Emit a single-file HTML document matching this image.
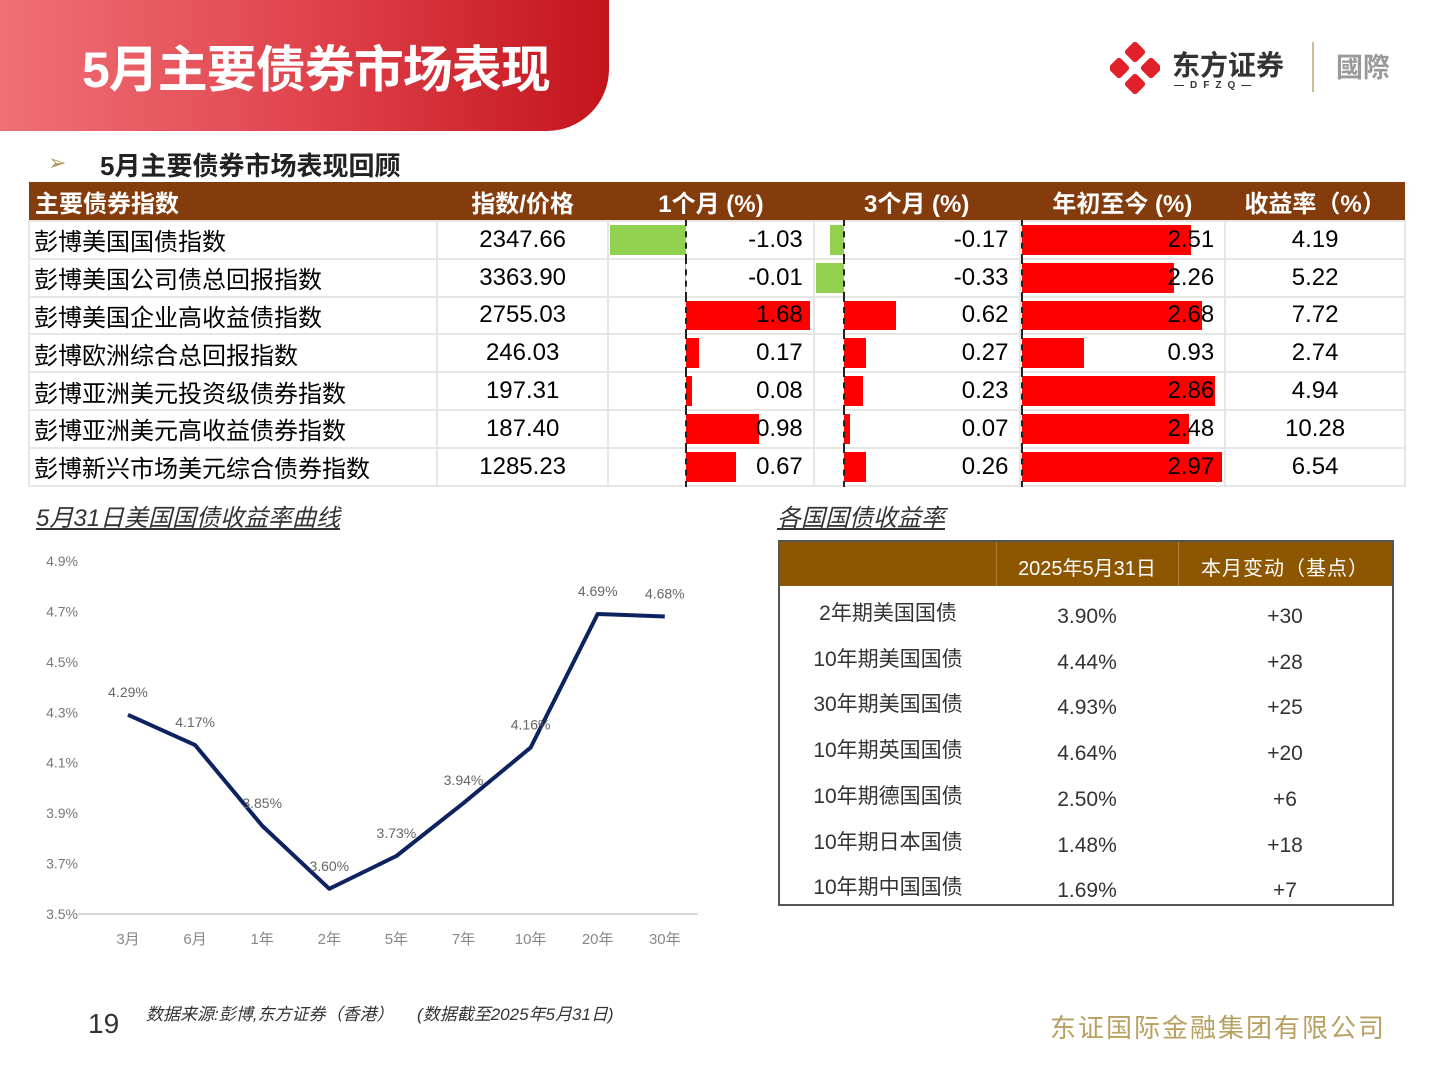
<!DOCTYPE html>
<html><head><meta charset="utf-8">
<style>
*{margin:0;padding:0;box-sizing:border-box}
body{width:1440px;height:1080px;background:#fff;position:relative;overflow:hidden;font-family:"Liberation Sans","Noto Sans CJK SC",sans-serif}
.abs{position:absolute}
#banner{left:0;top:0;width:609px;height:131px;background:linear-gradient(90deg,#f07077 0%,#e0444d 50%,#c4141c 100%);border-bottom-right-radius:62px}
#banner-title{left:82px;top:30px;font-size:50px;font-weight:bold;color:#fff;letter-spacing:-1px}
#tbl{left:28px;top:182px;width:1378px;border-collapse:collapse;font-size:24px}
#tbl th{background:#843c0c;color:#fff;height:39px;font-weight:bold;font-size:24px}
#tbl td{height:37.8px;border:2px solid #e6e6e6;position:relative;text-align:center;padding:0}
.bar{position:absolute;top:3px;bottom:3px}
.val{position:relative;z-index:2}
.num{text-align:right!important;padding-right:10px!important}
#t2{left:778px;top:540px;width:616px;height:366px;border:2px solid #555}
</style></head><body>
<div id="banner" class="abs"></div>
<div id="banner-title" class="abs">5月主要债券市场表现</div>

<div class="abs" style="left:1110px;top:42px;width:290px;height:52px">
 <svg width="50" height="52" style="position:absolute;left:0;top:0">
  <g fill="#e0202a"><rect x="17" y="2" width="16" height="16" rx="3" transform="rotate(45 25 10)"/><rect x="17" y="34" width="16" height="16" rx="3" transform="rotate(45 25 42)"/><rect x="1" y="18" width="16" height="16" rx="3" transform="rotate(45 9 26)"/><rect x="33" y="18" width="16" height="16" rx="3" transform="rotate(45 41 26)"/></g>
 </svg>
 <div class="abs" style="left:62px;top:2px;font-size:28px;font-weight:bold;color:#333">东方证券</div>
 <div class="abs" style="left:64px;top:38px;font-size:10px;color:#333;letter-spacing:6px;font-weight:bold">—DFZQ—</div>
 <div class="abs" style="left:202px;top:0;width:2px;height:50px;background:#c8bc9a"></div>
 <div class="abs" style="left:226px;top:4px;font-size:27px;font-weight:bold;color:#999">國際</div>
</div>

<div class="abs" style="left:48px;top:150px;font-size:22px;color:#b09a5a">➢</div>
<div class="abs" style="left:100px;top:146px;font-size:26px;font-weight:bold;color:#222">5月主要债券市场表现回顾</div>

<table id="tbl" class="abs">
<thead><tr>
<th style="width:409px;text-align:left;padding-left:6px">主要债券指数</th>
<th style="width:171px">指数/价格</th>
<th style="width:206px">1个月 (%)</th>
<th style="width:206px">3个月 (%)</th>
<th style="width:206px">年初至今 (%)</th>
<th style="width:180px">收益率（%）</th>
</tr></thead>
<tbody id="tb"></tbody>
</table>

<div class="abs" style="left:36px;top:498px;font-size:24px;font-style:italic;color:#333;text-decoration:underline">5月31日美国国债收益率曲线</div>
<svg id="chart" class="abs" style="left:0;top:540px" width="720" height="420"></svg>

<div class="abs" style="left:777px;top:498px;font-size:24px;font-style:italic;color:#333;text-decoration:underline">各国国债收益率</div>
<div id="t2" class="abs">
 <div class="abs" style="left:0;top:0;width:612px;height:44px;background:#8c5700"></div>
 <div class="abs" style="left:216px;top:0;width:1px;height:44px;background:#b08040"></div>
 <div class="abs" style="left:398px;top:0;width:1px;height:44px;background:#b08040"></div>
 <div class="abs" style="left:216px;top:10px;width:182px;text-align:center;color:#fff;font-size:20px">2025年5月31日</div>
 <div class="abs" style="left:398px;top:10px;width:214px;text-align:center;color:#fff;font-size:20px;letter-spacing:1px">本月变动（基点）</div>
 <div id="t2rows"></div>
</div>

<div class="abs" style="left:88px;top:1008px;font-size:28px;color:#333">19</div>
<div class="abs" style="left:146px;top:1000px;font-size:17px;font-style:italic;color:#333">数据来源:彭博,东方证券（香港）&nbsp;&nbsp;&nbsp;&nbsp;&nbsp;(数据截至2025年5月31日)</div>
<div class="abs" style="left:1050px;top:1008px;font-size:26px;color:#b8a060;letter-spacing:2px">东证国际金融集团有限公司</div>

<script>
const names=["彭博美国国债指数","彭博美国公司债总回报指数","彭博美国企业高收益债指数","彭博欧洲综合总回报指数","彭博亚洲美元投资级债券指数","彭博亚洲美元高收益债券指数","彭博新兴市场美元综合债券指数"];
const prices=["2347.66","3363.90","2755.03","246.03","197.31","187.40","1285.23"];
const m1=[-1.03,-0.01,1.68,0.17,0.08,0.98,0.67];
const m3=[-0.17,-0.33,0.62,0.27,0.23,0.07,0.26];
const ytd=[2.51,2.26,2.68,0.93,2.86,2.48,2.97];
const yld=["4.19","5.22","7.72","2.74","4.94","10.28","6.54"];

function barCell(v,zero,scale,name){
  const td=document.createElement('td');td.className='num';
  
  
  const b=document.createElement('div');b.className='bar';
  
  
  const w=Math.abs(v)*scale;
  b.style.width=w+'px';
  b.style.left=(v>=0?zero:zero-w)+'px';
  b.style.background=v>=0?'#ff0000':'#92d050';
  td.appendChild(b);
  if(zero>0){const ax=document.createElement('div');ax.style.cssText='position:absolute;top:-2px;bottom:-2px;left:'+(zero-1)+'px;border-left:2px dashed #222;z-index:1';td.appendChild(ax);}
  const s=document.createElement('span');s.className='val';s.textContent=v.toFixed(2);td.appendChild(s);
  return td;
}
const tb=document.getElementById('tb');
for(let i=0;i<names.length;i++){
  const tr=document.createElement('tr');
  
  
  const a=document.createElement('td');a.style.textAlign='left';a.style.paddingLeft='4px';a.textContent=names[i];
  
  
  const p=document.createElement('td');p.textContent=prices[i];
  
  
  tr.appendChild(a);tr.appendChild(p);
  tr.appendChild(barCell(m1[i],77,74,'one-month-return'));
  tr.appendChild(barCell(m3[i],29,84,'three-month-return'));
  tr.appendChild(barCell(ytd[i],1,67.5,'ytd-return'));
  const y=document.createElement('td');y.textContent=yld[i];
  
  
  tr.appendChild(y);
  tb.appendChild(tr);
}

// Second table
const gNames=["2年期美国国债","10年期美国国债","30年期美国国债","10年期英国国债","10年期德国国债","10年期日本国债","10年期中国国债"];
const gYields=["3.90%","4.44%","4.93%","4.64%","2.50%","1.48%","1.69%"];
const gChange=["+30","+28","+25","+20","+6","+18","+7"];
const t2=document.getElementById('t2rows');
for(let i=0;i<gNames.length;i++){
  const y=55+i*45.7;
  const n=document.createElement('div');n.className='abs';n.style.cssText=`left:0;top:${y}px;width:216px;text-align:center;font-size:21px;color:#333`;n.textContent=gNames[i];
  
  
  const v=document.createElement('div');v.className='abs';v.style.cssText=`left:216px;top:${y+8}px;width:182px;text-align:center;font-size:21px;color:#333`;v.textContent=gYields[i];
  
  
  const c=document.createElement('div');c.className='abs';c.style.cssText=`left:398px;top:${y+8}px;width:214px;text-align:center;font-size:21px;color:#333`;c.textContent=gChange[i];
  
  
  t2.appendChild(n);t2.appendChild(v);t2.appendChild(c);
}

// Chart
const tenors=["3月","6月","1年","2年","5年","7年","10年","20年","30年"];
const curve=[4.29,4.17,3.85,3.60,3.73,3.94,4.16,4.69,4.68];
const yTicks=[3.5,3.7,3.9,4.1,4.3,4.5,4.7,4.9];
const svg=document.getElementById('chart');
const NS='http://www.w3.org/2000/svg';
const yMin=3.5,yMax=4.9,pyBot=374,pyTop=21;
const ys=v=>pyBot-(v-yMin)/(yMax-yMin)*(pyBot-pyTop);
const xs=i=>128+i*67.1;
function mk(t,attrs,txt){const e=document.createElementNS(NS,t);for(const k in attrs)e.setAttribute(k,attrs[k]);if(txt!==undefined)e.textContent=txt;svg.appendChild(e);return e;}
let ax=mk('line',{x1:78,x2:698,y1:pyBot,y2:pyBot,stroke:'#d9d9d9','stroke-width':2});


yTicks.forEach(t=>{const e=mk('text',{x:78,y:ys(t)+5,'text-anchor':'end','font-size':14,fill:'#777','font-family':'Liberation Sans'},t.toFixed(1)+'%');
  
  });
tenors.forEach((t,i)=>{const e=mk('text',{x:xs(i),y:404,'text-anchor':'middle','font-size':15,fill:'#888','font-family':'Liberation Sans, Noto Sans CJK SC'},t);
  
  });
const pts=curve.map((v,i)=>xs(i)+','+ys(v)).join(' ');
const pl=mk('polyline',{points:pts,fill:'none',stroke:'#0d2360','stroke-width':4,'stroke-linejoin':'round'});


curve.forEach((v,i)=>{const e=mk('text',{x:xs(i),y:ys(v)-18,'text-anchor':'middle','font-size':14,fill:'#666','font-family':'Liberation Sans'},v.toFixed(2)+'%');
  
  });
</script>
</body></html>
